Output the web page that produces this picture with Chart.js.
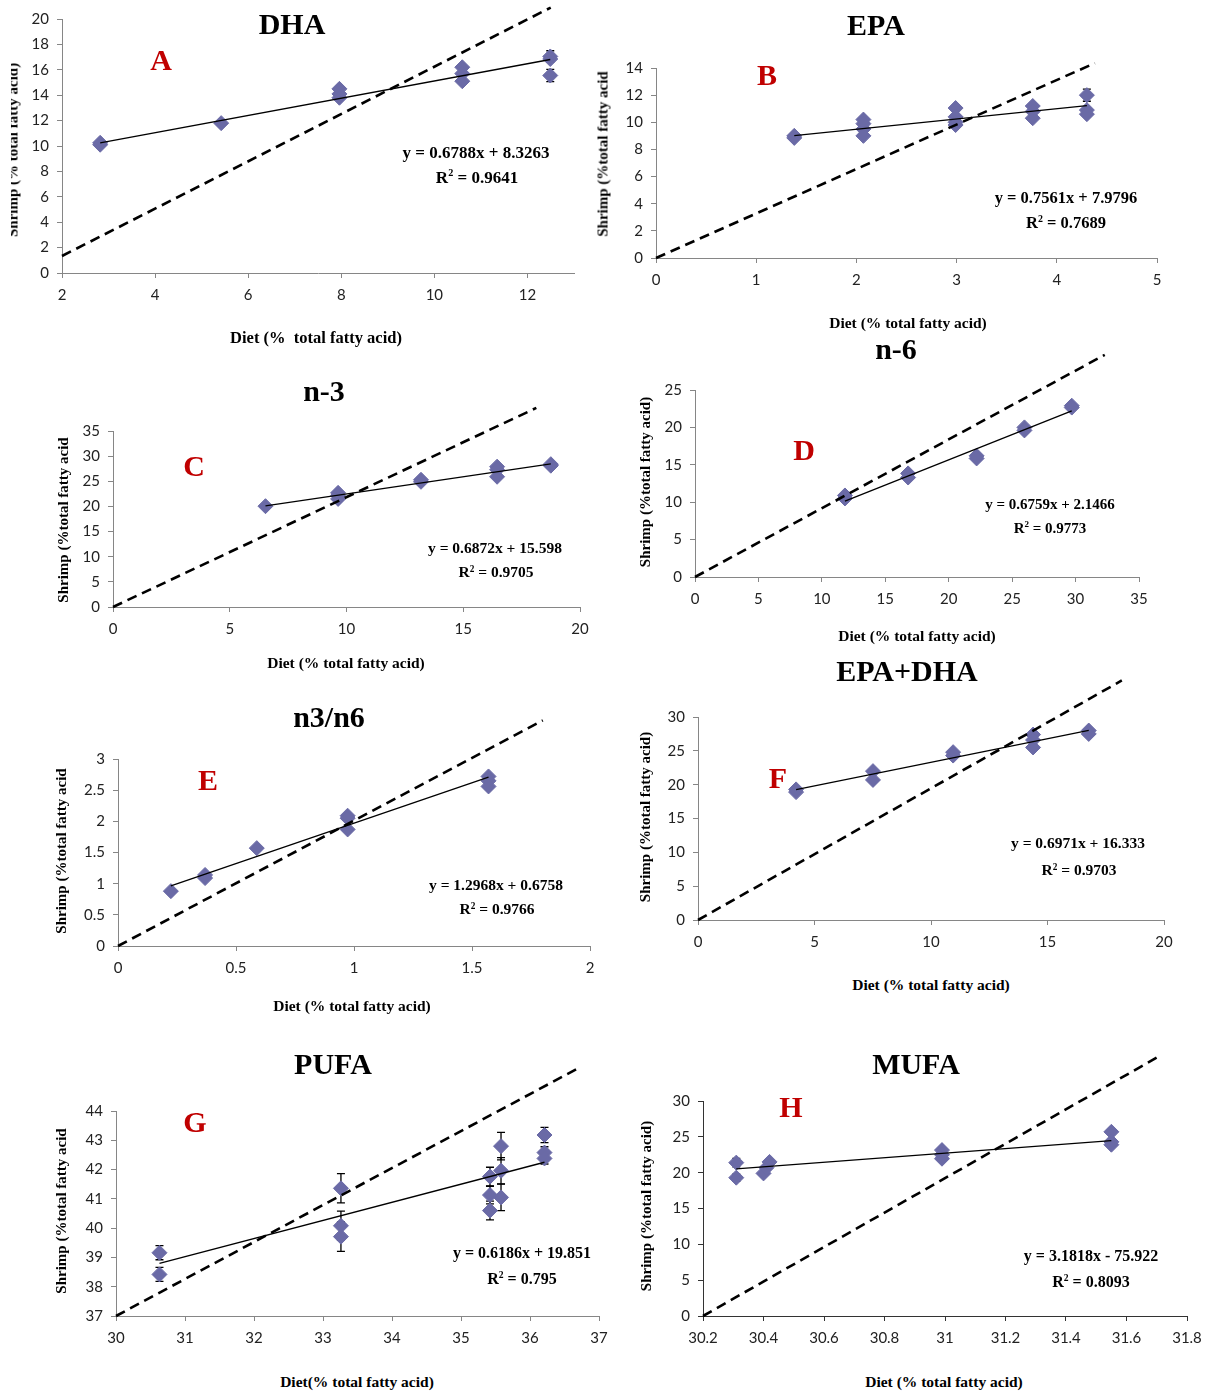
<!DOCTYPE html>
<html>
<head>
<meta charset="utf-8">
<script src="https://cdn.jsdelivr.net/npm/chart.js@4.4.1/dist/chart.umd.min.js"></script>
<style>
  body { margin: 0; background: #fff; width: 1205px; height: 1391px; position: relative; overflow: hidden;
         font-family: "Liberation Serif", "Times New Roman", serif; }
  canvas { position: absolute; }
  .t { position: absolute; transform: translate(-50%, -50%); white-space: pre; font-weight: bold; line-height: 1; color: #000; z-index: 2; }
  .title { font-size: 30px; }
  .letter { font-size: 30px; color: #c00000; }
  .ax { font-size: 15.5px; }
  .ay { font-size: 15px; transform: translate(-50%, -50%) rotate(-90deg); }
  sup { font-size: 60%; vertical-align: 0.6em; line-height: 0; }
  .clip { position: absolute; overflow: hidden; }
</style>
</head>
<body>

<!-- panel titles -->
<div class="t title" style="left:292px;top:24px">DHA</div>
<div class="t title" style="left:876px;top:25px">EPA</div>
<div class="t title" style="left:324px;top:391px">n-3</div>
<div class="t title" style="left:896px;top:349px">n-6</div>
<div class="t title" style="left:329px;top:717px">n3/n6</div>
<div class="t title" style="left:907px;top:671px">EPA+DHA</div>
<div class="t title" style="left:333px;top:1064px">PUFA</div>
<div class="t title" style="left:916px;top:1064px">MUFA</div>

<!-- panel letters -->
<div class="t letter" style="left:161px;top:60px">A</div>
<div class="t letter" style="left:767px;top:75px">B</div>
<div class="t letter" style="left:194px;top:466px">C</div>
<div class="t letter" style="left:804px;top:450px">D</div>
<div class="t letter" style="left:208px;top:780px">E</div>
<div class="t letter" style="left:778px;top:778px">F</div>
<div class="t letter" style="left:195px;top:1122px">G</div>
<div class="t letter" style="left:791px;top:1107px">H</div>

<!-- regression equations -->
<div class="t" style="left:476px;top:152px;font-size:17px">y = 0.6788x + 8.3263</div>
<div class="t" style="left:477px;top:177px;font-size:17px">R<sup>2</sup> = 0.9641</div>
<div class="t" style="left:1066px;top:198px;font-size:16.5px">y = 0.7561x + 7.9796</div>
<div class="t" style="left:1066px;top:223px;font-size:16.5px">R<sup>2</sup> = 0.7689</div>
<div class="t" style="left:495px;top:548px;font-size:15.5px">y = 0.6872x + 15.598</div>
<div class="t" style="left:496px;top:572px;font-size:15.5px">R<sup>2</sup> = 0.9705</div>
<div class="t" style="left:1050px;top:504px;font-size:15px">y = 0.6759x + 2.1466</div>
<div class="t" style="left:1050px;top:528px;font-size:15px">R<sup>2</sup> = 0.9773</div>
<div class="t" style="left:496px;top:885px;font-size:15.5px">y = 1.2968x + 0.6758</div>
<div class="t" style="left:497px;top:909px;font-size:15.5px">R<sup>2</sup> = 0.9766</div>
<div class="t" style="left:1078px;top:843px;font-size:15.5px">y = 0.6971x + 16.333</div>
<div class="t" style="left:1079px;top:870px;font-size:15.5px">R<sup>2</sup> = 0.9703</div>
<div class="t" style="left:522px;top:1253px;font-size:16px">y = 0.6186x + 19.851</div>
<div class="t" style="left:522px;top:1279px;font-size:16px">R<sup>2</sup> = 0.795</div>
<div class="t" style="left:1091px;top:1256px;font-size:16px">y = 3.1818x - 75.922</div>
<div class="t" style="left:1091px;top:1282px;font-size:16px">R<sup>2</sup> = 0.8093</div>

<!-- x axis titles -->
<div class="t ax" style="left:316px;top:338px;font-size:16.5px">Diet (%  total fatty acid)</div>
<div class="t ax" style="left:908px;top:323px">Diet (% total fatty acid)</div>
<div class="t ax" style="left:346px;top:663px">Diet (% total fatty acid)</div>
<div class="t ax" style="left:917px;top:636px">Diet (% total fatty acid)</div>
<div class="t ax" style="left:352px;top:1006px">Diet (% total fatty acid)</div>
<div class="t ax" style="left:931px;top:985px">Diet (% total fatty acid)</div>
<div class="t ax" style="left:357px;top:1382px">Diet(% total fatty acid)</div>
<div class="t ax" style="left:944px;top:1382px">Diet (% total fatty acid)</div>

<!-- y axis titles (A is cut off at the page edge) -->
<div class="clip" style="left:11px;top:0;width:40px;height:300px">
  <div class="t ay" style="left:2px;top:150px">Shrimp (% total fatty acid)</div>
</div>
<div class="t ay" style="left:603px;top:154px">Shrimp (%total fatty acid</div>
<div class="t ay" style="left:63px;top:520px">Shrimp (%total fatty acid</div>
<div class="t ay" style="left:645px;top:482px">Shrimp (%total fatty acid)</div>
<div class="t ay" style="left:61px;top:851px">Shrimp (%total fatty acid</div>
<div class="t ay" style="left:645px;top:817px">Shrimp (%total fatty acid)</div>
<div class="t ay" style="left:61px;top:1211px">Shrimp (%total fatty acid</div>
<div class="t ay" style="left:646px;top:1206px">Shrimp (%total fatty acid)</div>

<script>
// Shrimp vs. diet fatty-acid composition, 8 panels. Each panel: replicate
// points (some with SE bars), the fitted trend line and the dashed reference line.

// --- A: DHA ---
const dhaX = [2.82, 2.82, 5.42, 7.96, 7.96, 7.96, 10.6, 10.6, 10.6, 12.49, 12.49, 12.49];
const dhaY = [10.1, 10.25, 11.8, 14.5, 14.1, 13.8, 16.2, 15.7, 15.1, 17.05, 16.85, 15.55];
const dhaErr = [0, 0, 0, 0, 0, 0, 0, 0, 0, 0.45, 0, 0.48];
const dhaTrendX = [2.82, 12.49], dhaTrendY = [10.24, 16.81];
const dhaDashX = [2, 12.5], dhaDashY = [1.34, 20.9];
const dhaXTicks = [2, 4, 6, 8, 10, 12];
const dhaYTicks = [0, 2, 4, 6, 8, 10, 12, 14, 16, 18, 20];

// --- B: EPA ---
const epaX = [1.38, 1.38, 2.07, 2.07, 2.07, 2.07, 2.99, 2.99, 2.99, 2.99, 3.76, 3.76, 3.76, 4.3, 4.3, 4.3];
const epaY = [8.85, 9.0, 10.2, 9.9, 9.5, 9.0, 11.05, 10.4, 10.0, 9.8, 11.2, 10.8, 10.3, 12.0, 10.9, 10.6];
const epaErr = [0, 0, 0, 0, 0, 0, 0, 0, 0, 0, 0, 0, 0, 0.45, 0, 0];
const epaTrendX = [1.38, 4.3], epaTrendY = [9.02, 11.23];
const epaDashX = [0, 4.38], epaDashY = [0, 14.36];
const epaXTicks = [0, 1, 2, 3, 4, 5];
const epaYTicks = [0, 2, 4, 6, 8, 10, 12, 14];

// --- C: n-3 ---
const n3X = [6.53, 9.64, 9.64, 9.64, 13.19, 13.19, 16.45, 16.45, 16.45, 18.75, 18.75];
const n3Y = [20.05, 22.7, 22.2, 21.5, 25.3, 24.9, 27.9, 27.3, 25.9, 28.4, 28.1];
const n3TrendX = [6.53, 18.75], n3TrendY = [20.09, 28.48];
const n3DashX = [0, 18.13], n3DashY = [0, 39.6];
const n3XTicks = [0, 5, 10, 15, 20];
const n3YTicks = [0, 5, 10, 15, 20, 25, 30, 35];

// --- D: n-6 ---
const n6X = [11.82, 11.82, 16.8, 16.8, 22.2, 22.2, 25.97, 25.97, 29.7, 29.7];
const n6Y = [10.9, 10.5, 13.85, 13.3, 16.2, 15.85, 20.0, 19.6, 22.9, 22.65];
const n6TrendX = [11.82, 29.7], n6TrendY = [10.14, 22.22];
const n6DashX = [0, 32.3], n6DashY = [0, 29.7];
const n6XTicks = [0, 5, 10, 15, 20, 25, 30, 35];
const n6YTicks = [0, 5, 10, 15, 20, 25];

// --- E: n3/n6 ---
const ratioX = [0.224, 0.369, 0.369, 0.588, 0.973, 0.973, 0.973, 1.57, 1.57, 1.57];
const ratioY = [0.88, 1.14, 1.09, 1.57, 2.09, 2.05, 1.87, 2.72, 2.65, 2.56];
const ratioTrendX = [0.224, 1.57], ratioTrendY = [0.966, 2.71];
const ratioDashX = [0, 1.8], ratioDashY = [0, 3.62];
const ratioXTicks = [0, 0.5, 1, 1.5, 2];
const ratioYTicks = [0, 0.5, 1, 1.5, 2, 2.5, 3];

// --- F: EPA+DHA ---
const sumX = [4.21, 4.21, 7.51, 7.51, 10.95, 10.95, 14.38, 14.38, 14.38, 16.77, 16.77];
const sumY = [19.3, 18.9, 22.0, 20.7, 24.8, 24.3, 27.4, 26.6, 25.5, 28.0, 27.5];
const sumTrendX = [4.21, 16.77], sumTrendY = [19.27, 28.02];
const sumDashX = [0, 18.19], sumDashY = [0, 35.4];
const sumXTicks = [0, 5, 10, 15, 20];
const sumYTicks = [0, 5, 10, 15, 20, 25, 30];

// --- G: PUFA ---
const pufaX = [30.63, 30.63, 33.26, 33.26, 33.26, 35.42, 35.42, 35.42, 35.58, 35.58, 35.58, 36.21, 36.21, 36.21];
const pufaY = [39.16, 38.42, 41.36, 40.08, 39.71, 41.76, 41.13, 40.6, 42.8, 41.96, 41.05, 43.18, 42.58, 42.38];
const pufaErr = [0.24, 0.24, 0.5, 0.5, 0.5, 0.32, 0.3, 0.32, 0.47, 0.45, 0.45, 0.26, 0.2, 0.19];
const pufaTrendX = [30.63, 36.21], pufaTrendY = [38.8, 42.25];
const pufaDashX = [30, 36.69], pufaDashY = [37, 45.45];
const pufaXTicks = [30, 31, 32, 33, 34, 35, 36, 37];
const pufaYTicks = [37, 38, 39, 40, 41, 42, 43, 44];

// --- H: MUFA ---
const mufaX = [30.31, 30.31, 30.4, 30.41, 30.42, 30.99, 30.99, 30.99, 31.55, 31.55, 31.55];
const mufaY = [21.4, 19.3, 19.9, 20.7, 21.5, 23.15, 22.5, 21.95, 25.7, 24.3, 23.9];
const mufaErr = [0.6, 0.5, 0, 0, 0, 0, 0, 0, 0.3, 0, 0];
const mufaTrendX = [30.31, 31.55], mufaTrendY = [20.52, 24.46];
const mufaDashX = [30.2, 31.706], mufaDashY = [0, 36.2];
const mufaXTicks = [30.2, 30.4, 30.6, 30.8, 31, 31.2, 31.4, 31.6, 31.8];
const mufaYTicks = [0, 5, 10, 15, 20, 25, 30];

const MARKER = "#6a6aa6";
const AXIS_GRAY = "#868686";
// room round each plot area: y labels left, x labels below, dashed overshoot above
const PAD_L = 55, PAD_T = 50, PAD_R = 30, PAD_B = 45;

const pts = (xs, ys) => xs.map((x, i) => ({ x, y: ys[i] }));

// Vertical SE bars with caps, drawn under the markers.
const errorBars = {
  id: "errorBars",
  beforeDatasetsDraw(chart) {
    const { ctx, scales: { x: xs, y: ys } } = chart;
    chart.data.datasets.forEach((ds) => {
      if (!ds.errors) return;
      ctx.save();
      ctx.strokeStyle = "#000";
      ctx.lineWidth = 1.3;
      ds.data.forEach((p, i) => {
        const e = ds.errors[i];
        if (!e) return;
        const px = xs.getPixelForValue(p.x);
        const y1 = ys.getPixelForValue(p.y + e), y2 = ys.getPixelForValue(p.y - e);
        ctx.beginPath();
        ctx.moveTo(px, y1); ctx.lineTo(px, y2);
        ctx.moveTo(px - 4, y1); ctx.lineTo(px + 4, y1);
        ctx.moveTo(px - 4, y2); ctx.lineTo(px + 4, y2);
        ctx.stroke();
      });
      ctx.restore();
    });
  },
};

function axis(ticks, fit, color) {
  return {
    type: "linear",
    min: ticks[0],
    afterBuildTicks: (s) => { s.ticks = ticks.map((v) => ({ value: v })); },
    afterFit: fit,
    grid: { drawOnChartArea: false, tickLength: 5, color },
    border: { color, width: 1 },
    ticks: { font: { family: "Lato", size: 15 }, color: "#222", padding: 8, callback: (v) => String(v) },
  };
}

function panel(rect, xMax, yMax, xs, ys, errs, tx, ty, dx, dy, xTicks, yTicks, axisColor = AXIS_GRAY) {
  const cv = document.createElement("canvas");
  const w = rect.r - rect.l + PAD_L + PAD_R, h = rect.b - rect.t + PAD_T + PAD_B;
  cv.width = w; cv.height = h;
  cv.style.left = rect.l - PAD_L + "px";
  cv.style.top = rect.t - PAD_T + "px";
  cv.style.width = w + "px"; cv.style.height = h + "px";
  document.body.appendChild(cv);

  const x = axis(xTicks, (s) => { s.height = PAD_B; }, axisColor);
  x.max = xMax;
  const y = axis(yTicks, (s) => { s.width = PAD_L; }, axisColor);
  y.max = yMax;

  new Chart(cv, {
    type: "scatter",
    data: {
      datasets: [
        { type: "line", data: pts(dx, dy), borderColor: "#000", borderWidth: 2.6, borderDash: [10, 6],
          pointRadius: 0, clip: false, order: 0 },
        { type: "line", data: pts(tx, ty), borderColor: "#000", borderWidth: 1.3, pointRadius: 0, order: 1 },
        { data: pts(xs, ys), errors: errs, pointStyle: "rectRot", pointRadius: 7.5,
          backgroundColor: MARKER, borderColor: MARKER, borderWidth: 1, order: 2 },
      ],
    },
    options: {
      responsive: false,
      animation: false,
      events: [],
      layout: { padding: { left: 0, top: PAD_T, right: PAD_R, bottom: 0 } },
      plugins: { legend: { display: false }, tooltip: { enabled: false } },
      scales: { x, y },
    },
    plugins: [errorBars],
  });
}

panel({ l: 62, t: 19, r: 574, b: 273 }, 13, 20, dhaX, dhaY, dhaErr, dhaTrendX, dhaTrendY, dhaDashX, dhaDashY, dhaXTicks, dhaYTicks);
panel({ l: 656, t: 68, r: 1157, b: 258 }, 5, 14, epaX, epaY, epaErr, epaTrendX, epaTrendY, epaDashX, epaDashY, epaXTicks, epaYTicks);
panel({ l: 113, t: 431, r: 580, b: 607 }, 20, 35, n3X, n3Y, null, n3TrendX, n3TrendY, n3DashX, n3DashY, n3XTicks, n3YTicks);
panel({ l: 695, t: 390, r: 1139, b: 577 }, 35, 25, n6X, n6Y, null, n6TrendX, n6TrendY, n6DashX, n6DashY, n6XTicks, n6YTicks);
panel({ l: 118, t: 759, r: 590, b: 946 }, 2, 3, ratioX, ratioY, null, ratioTrendX, ratioTrendY, ratioDashX, ratioDashY, ratioXTicks, ratioYTicks);
panel({ l: 698, t: 717, r: 1164, b: 920 }, 20, 30, sumX, sumY, null, sumTrendX, sumTrendY, sumDashX, sumDashY, sumXTicks, sumYTicks);
panel({ l: 116, t: 1111, r: 599, b: 1316 }, 37, 44, pufaX, pufaY, pufaErr, pufaTrendX, pufaTrendY, pufaDashX, pufaDashY, pufaXTicks, pufaYTicks);
panel({ l: 703, t: 1101, r: 1187, b: 1316 }, 31.8, 30, mufaX, mufaY, mufaErr, mufaTrendX, mufaTrendY, mufaDashX, mufaDashY, mufaXTicks, mufaYTicks, "#333");
</script>
</body>
</html>
